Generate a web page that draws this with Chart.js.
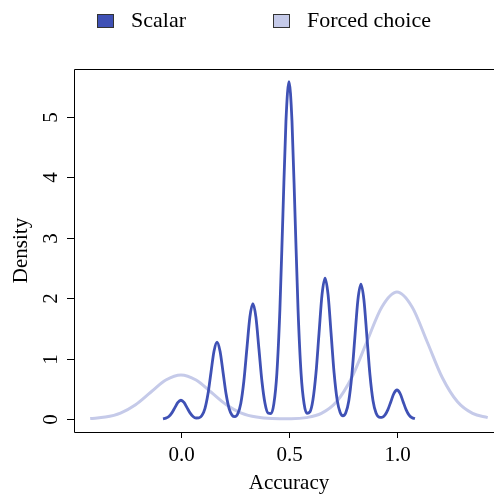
<!DOCTYPE html>
<html>
<head>
<meta charset="utf-8">
<script src="https://cdn.jsdelivr.net/npm/chart.js@4.4.1/dist/chart.umd.min.js"></script>
<style>
  body { margin: 0; background: #fff; }
  #wrap { width: 494px; height: 496px; position: relative; }
</style>
</head>
<body>
<div id="wrap"><canvas id="myChart"></canvas></div>
<script>
// density curves
const scalarAccuracy = [
  -0.083, -0.070, -0.056, -0.042, -0.028, -0.014, 0.000, 0.014, 0.028, 0.042, 0.056, 0.070,
  0.083, 0.097, 0.111, 0.125, 0.139, 0.153, 0.167, 0.181, 0.195, 0.209, 0.223, 0.237,
  0.250, 0.263, 0.277, 0.291, 0.305, 0.319, 0.333, 0.347, 0.361, 0.375, 0.389, 0.403,
  0.417, 0.430, 0.444, 0.458, 0.472, 0.486, 0.500, 0.514, 0.528, 0.542, 0.556, 0.570,
  0.583, 0.597, 0.611, 0.625, 0.639, 0.653, 0.667, 0.681, 0.695, 0.709, 0.723, 0.737,
  0.750, 0.763, 0.777, 0.791, 0.805, 0.819, 0.833, 0.847, 0.861, 0.875, 0.889, 0.903,
  0.917, 0.930, 0.944, 0.958, 0.972, 0.986, 1.000, 1.014, 1.028, 1.042, 1.056, 1.070,
  1.083
];
const scalarDensity = [
  0.004, 0.014, 0.042, 0.101, 0.188, 0.274, 0.310, 0.274, 0.188, 0.101, 0.042, 0.017,
  0.019, 0.057, 0.172, 0.412, 0.770, 1.121, 1.270, 1.121, 0.770, 0.412, 0.173, 0.061,
  0.038, 0.087, 0.258, 0.620, 1.158, 1.686, 1.910, 1.686, 1.158, 0.620, 0.260, 0.098,
  0.089, 0.250, 0.756, 1.812, 3.384, 4.924, 5.580, 4.924, 3.384, 1.812, 0.756, 0.251,
  0.094, 0.117, 0.317, 0.757, 1.413, 2.056, 2.330, 2.056, 1.413, 0.757, 0.316, 0.108,
  0.054, 0.104, 0.302, 0.724, 1.352, 1.968, 2.230, 1.968, 1.352, 0.724, 0.302, 0.099,
  0.032, 0.027, 0.065, 0.156, 0.291, 0.424, 0.480, 0.424, 0.291, 0.156, 0.065, 0.021,
  0.006
];
const forcedAccuracy = [
  -0.42, -0.35, -0.28, -0.21, -0.14, -0.07, 0.00, 0.07, 0.14, 0.21, 0.28, 0.35, 0.42,
  0.51, 0.58, 0.65, 0.72, 0.79, 0.86, 0.93, 1.00, 1.07, 1.14, 1.21, 1.28, 1.35, 1.42
];
const forcedDensity = [
  0.008, 0.032, 0.099, 0.237, 0.443, 0.644, 0.730, 0.644, 0.443, 0.237, 0.099, 0.032, 0.009,
  0.006, 0.023, 0.092, 0.284, 0.682, 1.274, 1.853, 2.100, 1.853, 1.274, 0.682, 0.284, 0.092, 0.023
];

const seriesNames = ['Scalar', 'Forced choice'];
const xTicks = [0, 0.5, 1];
const xTickLabels = ['0.0', '0.5', '1.0'];
const yTicks = [0, 1, 2, 3, 4, 5];

const darkBlue = '#3F51B5';
const lightBlue = '#C5CAE9';
const FONT = "'Liberation Serif', 'Times New Roman', serif";

const toPoints = (xs, ys) => xs.map((x, i) => ({ x: x, y: ys[i] }));

const data = {
  datasets: [
    {
      label: seriesNames[0],
      data: toPoints(scalarAccuracy, scalarDensity),
      borderColor: darkBlue,
      backgroundColor: darkBlue,
      borderWidth: 2.8
    },
    {
      label: seriesNames[1],
      data: toPoints(forcedAccuracy, forcedDensity),
      borderColor: lightBlue,
      backgroundColor: lightBlue,
      borderWidth: 3
    }
  ]
};

// R style axes, frame and legend
const baseAxes = {
  id: 'baseAxes',
  afterDraw(chart) {
    const {ctx, chartArea: {left, right, top, bottom}, scales: {x, y}} = chart;
    ctx.save();
    ctx.strokeStyle = '#000';
    ctx.lineWidth = 1;

    // frame (right side falls off the canvas)
    ctx.beginPath();
    ctx.moveTo(right, top + 0.5);
    ctx.lineTo(left + 0.5, top + 0.5);
    ctx.lineTo(left + 0.5, bottom + 0.5);
    ctx.lineTo(right, bottom + 0.5);
    ctx.stroke();

    ctx.fillStyle = '#000';
    ctx.font = '21px ' + FONT;

    // x ticks
    ctx.textAlign = 'center';
    ctx.textBaseline = 'alphabetic';
    xTicks.forEach((v, i) => {
      const px = Math.round(x.getPixelForValue(v)) + 0.5;
      ctx.beginPath();
      ctx.moveTo(px, bottom + 0.5);
      ctx.lineTo(px, bottom + 6);
      ctx.stroke();
      ctx.fillText(xTickLabels[i], px, 461);
    });
    ctx.fillText('Accuracy', 289, 489);

    // y ticks
    yTicks.forEach(v => {
      const py = Math.round(y.getPixelForValue(v)) + 0.5;
      ctx.beginPath();
      ctx.moveTo(left + 0.5, py);
      ctx.lineTo(left - 7, py);
      ctx.stroke();
      ctx.save();
      ctx.translate(57, py);
      ctx.rotate(-Math.PI / 2);
      ctx.fillText(String(v), 0, 0);
      ctx.restore();
    });
    ctx.save();
    ctx.translate(27, (top + bottom) / 2);
    ctx.rotate(-Math.PI / 2);
    ctx.fillText('Density', 0, 0);
    ctx.restore();

    // legend
    const boxX = [97, 273];
    const textX = [131, 307];
    ctx.font = '22px ' + FONT;
    ctx.textAlign = 'left';
    chart.data.datasets.forEach((ds, i) => {
      ctx.fillStyle = ds.borderColor;
      ctx.fillRect(boxX[i], 14, 16, 13);
      ctx.strokeStyle = '#333';
      ctx.strokeRect(boxX[i] + 0.5, 14.5, 16, 13);
      ctx.fillStyle = '#000';
      ctx.fillText(ds.label, textX[i], 27);
    });
    ctx.restore();
  }
};

const config = {
  type: 'line',
  data,
  options: {
    responsive: true,
    maintainAspectRatio: false,
    animation: false,
    layout: { padding: { left: 74, right: 0, top: 69, bottom: 64 } },
    elements: {
      point: { radius: 0 },
      line: { cubicInterpolationMode: 'monotone' }
    },
    scales: {
      x: { type: 'linear', min: -0.495, max: 1.449, display: false },
      y: { type: 'linear', min: -0.215, max: 5.79, display: false }
    },
    plugins: {
      legend: { display: false },
      tooltip: { enabled: false }
    }
  },
  plugins: [baseAxes]
};

const myChart = new Chart(
  document.getElementById('myChart'),
  config
);
</script>
</body>
</html>
